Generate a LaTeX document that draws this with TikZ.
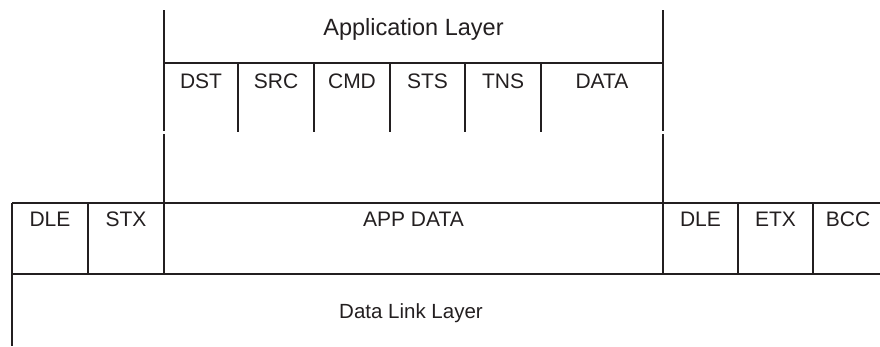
\documentclass[tikz,border=0pt]{standalone}
\usepackage{fontspec}
\setmainfont{Liberation Sans}
\definecolor{ink}{HTML}{231F20}
\begin{document}
\begin{tikzpicture}[x=1pt,y=-1pt,line width=2.4pt,draw=ink,
  lbl/.style={text=ink,inner sep=0pt,anchor=base,font=\fontsize{21}{21}\selectfont},
  big/.style={lbl,font=\fontsize{23.5}{24}\selectfont},
  dll/.style={lbl,font=\fontsize{20.5}{21}\selectfont}]
\useasboundingbox (0,0) rectangle (880,346);
% application layer frame
\draw (164,10) -- (164,131);
\draw (663,10) -- (663,131);
\draw (164,63) -- (663,63);
\foreach \x in {238,314,390,465,541} \draw (\x,63) -- (\x,132);
\draw (164,134) -- (164,274);
\draw (663,134) -- (663,274);
% data link row
\draw (12,203) -- (880,203);
\draw (12,274) -- (880,274);
\draw (12,203) -- (12,346);
\foreach \x in {88,738,813} \draw (\x,203) -- (\x,274);
% labels
\node[big] (app) at (413.5,35) {Application Layer};
\node[lbl] (dst) at (201,88) {DST};
\node[lbl] (src) at (276,88) {SRC};
\node[lbl] (cmd) at (352,88) {CMD};
\node[lbl] (sts) at (427.5,88) {STS};
\node[lbl] (tns) at (503,88) {TNS};
\node[lbl] (data) at (602,88) {DATA};
\node[lbl] (dle1) at (50,226) {DLE};
\node[lbl] (stx) at (126,226) {STX};
\node[lbl] (appdata) at (413.5,226) {APP DATA};
\node[lbl] (dle2) at (700.5,226) {DLE};
\node[lbl] (etx) at (775.5,226) {ETX};
\node[lbl] (bcc) at (848,226) {BCC};
\node[dll] (dlink) at (411,318) {Data Link Layer};
\end{tikzpicture}
\end{document}
